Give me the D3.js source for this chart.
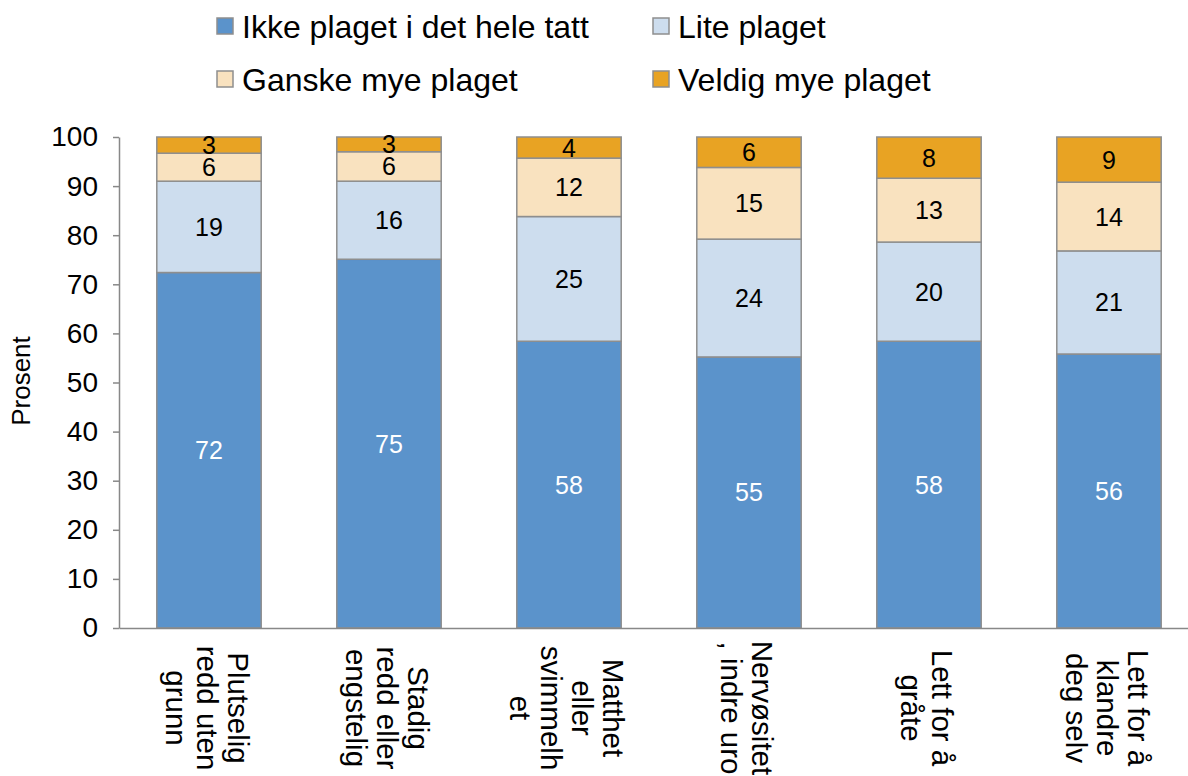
<!DOCTYPE html>
<html>
<head>
<meta charset="utf-8">
<script src="https://cdn.jsdelivr.net/npm/d3@7"></script>
<style>
  html, body { margin: 0; padding: 0; background: #fff; }
  svg { display: block; }
  text { font-family: "Liberation Sans", Arial, sans-serif; fill: #000; }
</style>
</head>
<body>
<script>
// ---- Data ----
const categoryLines = [
  ["Plutselig", "redd uten", "grunn"],
  ["Stadig", "redd eller", "engstelig"],
  ["Matthet", "eller", "svimmelh", "et"],
  ["Nervøsitet", ", indre uro"],
  ["Lett for å", "gråte"],
  ["Lett for å", "klandre", "deg selv"]
];
const seriesNames = ["Ikke plaget i det hele tatt", "Lite plaget", "Ganske mye plaget", "Veldig mye plaget"];
const ikkePlaget   = [72.4, 75.1, 58.4, 55.2, 58.4, 55.8];
const litePlaget   = [18.6, 15.9, 25.4, 24.0, 20.2, 21.0];
const ganskePlaget = [5.7, 6.0, 11.9, 14.6, 13.0, 14.0];
const veldigPlaget = [3.3, 3.0, 4.3, 6.2, 8.4, 9.2];
const yTicks = [0, 10, 20, 30, 40, 50, 60, 70, 80, 90, 100];
const yTitle = "Prosent";

const colors = ["#5B93CB", "#CDDDEE", "#F9E2BF", "#E8A323"];
const labelColors = ["#fff", "#000", "#000", "#000"];

// ---- Build table ----
const seriesValues = [ikkePlaget, litePlaget, ganskePlaget, veldigPlaget];
const keys = ["s0", "s1", "s2", "s3"];
const table = categoryLines.map((c, i) => {
  const row = { idx: i };
  keys.forEach((k, j) => row[k] = seriesValues[j][i]);
  return row;
});
const stacked = d3.stack().keys(keys)(table);

const W = 1188, H = 776;
const svg = d3.select("body").append("svg").attr("width", W).attr("height", H);

const x = d3.scaleBand().domain(d3.range(categoryLines.length))
  .range([119, 1199]).paddingInner(0.42).paddingOuter(0.21);
const y = d3.scaleLinear().domain([0, 100]).range([628, 137]);

// ---- Bars ----
const gBars = svg.append("g");
stacked.forEach((layer, j) => {
  gBars.append("g").selectAll("rect").data(layer).join("rect")
    .attr("x", d => x(d.data.idx))
    .attr("y", d => y(d[1]))
    .attr("width", x.bandwidth())
    .attr("height", d => y(d[0]) - y(d[1]))
    .attr("fill", colors[j])
    .attr("stroke", "#8E8E8E")
    .attr("stroke-width", 1.5);
});

// ---- Data labels ----
stacked.forEach((layer, j) => {
  svg.append("g").selectAll("text").data(layer).join("text")
    .attr("x", d => x(d.data.idx) + x.bandwidth() / 2)
    .attr("y", d => (y(d[0]) + y(d[1])) / 2)
    .attr("dy", "0.36em")
    .attr("text-anchor", "middle")
    .style("font-size", "25px")
    .style("fill", labelColors[j])
    .text(d => Math.round(d[1] - d[0]));
});

// ---- Y axis ----
const yAxis = svg.append("g").attr("transform", "translate(119,0)")
  .call(d3.axisLeft(y).tickValues(yTicks).tickSize(6).tickSizeOuter(0).tickPadding(15));
yAxis.select(".domain").attr("stroke", "#888").attr("stroke-width", 1.5);
yAxis.selectAll(".tick line").attr("stroke", "#888").attr("stroke-width", 1.5);
yAxis.selectAll(".tick text").style("font-size", "28px").style("font-family", "Liberation Sans, Arial, sans-serif").attr("fill", "#000");

// ---- X axis ----
const xAxis = svg.append("g").attr("transform", "translate(0,628)")
  .call(d3.axisBottom(x).tickSize(0).tickSizeOuter(0).tickFormat(""));
xAxis.select(".domain").attr("stroke", "#888").attr("stroke-width", 1.5);

const lineH = 31;
const catFont = 29.5;
const gCat = svg.append("g");
categoryLines.forEach((lines, i) => {
  const cx = x(i) + x.bandwidth() / 2 - 2;
  const n = lines.length;
  lines.forEach((ln, k) => {
    // first line on the right; block centred on band centre
    const off = ((n - 1) / 2 - k) * lineH;
    const px = cx + off;
    gCat.append("text")
      .attr("transform", `translate(${px},708) rotate(90)`)
      .attr("text-anchor", "middle")
      .attr("dy", "0.35em")
      .style("font-size", catFont + "px")
      .text(ln);
  });
});

// ---- Y title ----
svg.append("text")
  .attr("transform", "translate(21,381) rotate(-90)")
  .attr("text-anchor", "middle")
  .attr("dy", "0.35em")
  .style("font-size", "26px")
  .text(yTitle);

// ---- Legend ----
const legendPos = [[217, 18], [653, 18], [217, 71], [653, 71]];
const legend = svg.append("g");
seriesNames.forEach((name, j) => {
  const [lx, ly] = legendPos[j];
  legend.append("rect").attr("x", lx).attr("y", ly).attr("width", 16).attr("height", 16)
    .attr("fill", colors[j]).attr("stroke", "#8E8E8E").attr("stroke-width", 1.5);
  legend.append("text").attr("x", lx + 25).attr("y", ly + 8).attr("dy", "0.36em")
    .style("font-size", "32px").text(name);
});
</script>
</body>
</html>
